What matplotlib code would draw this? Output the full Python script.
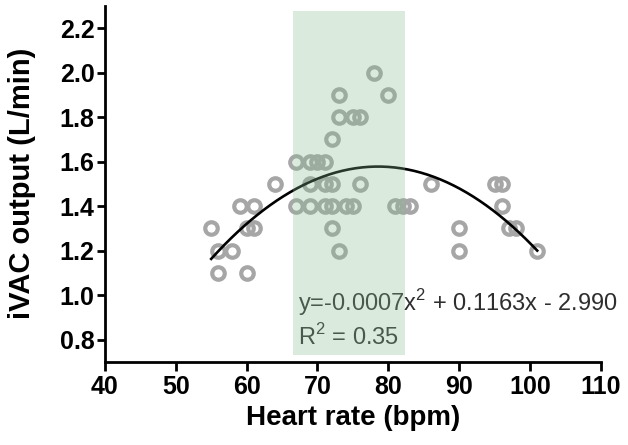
import numpy as np
import matplotlib
matplotlib.use("Agg")
import matplotlib.pyplot as plt

plt.rcParams['font.family'] = ['Liberation Sans', 'DejaVu Sans']

# data
heart_rate = [55, 56, 58, 56, 60, 59, 61, 60, 61, 64,
              67, 69, 70, 71,
              69, 71, 72, 76,
              67, 69, 71, 72, 74, 75, 81, 82, 83,
              72, 73,
              72, 73, 75, 76, 73, 80, 78,
              86, 90, 90, 95, 96, 96, 97, 98, 101]
ivac = [1.3, 1.2, 1.2, 1.1, 1.1, 1.4, 1.4, 1.3, 1.3, 1.5,
        1.6, 1.6, 1.6, 1.6,
        1.5, 1.5, 1.5, 1.5,
        1.4, 1.4, 1.4, 1.4, 1.4, 1.4, 1.4, 1.4, 1.4,
        1.3, 1.2,
        1.7, 1.8, 1.8, 1.8, 1.9, 1.9, 2.0,
        1.5, 1.3, 1.2, 1.5, 1.5, 1.4, 1.3, 1.3, 1.2]
band = (66.5, 82.3)
eq_text = "y=-0.0007x$^2$ + 0.1163x - 2.990"
r2_text = "R$^2$ = 0.35"

hr = np.array(heart_rate, dtype=float)
iv = np.array(ivac, dtype=float)
coef = np.polyfit(hr, iv, 2)
xs = np.linspace(hr.min(), hr.max(), 200)

plt.rcParams['mathtext.fontset'] = 'custom'
plt.rcParams['mathtext.rm'] = 'Liberation Sans'

fig = plt.figure(figsize=(6.28, 4.45), dpi=100)
ax = fig.add_axes([0.167, 0.187, 0.790, 0.800])

ax.plot(hr, iv, 'o', mfc='none', mec='#a6a6a6', ms=9, mew=3, zorder=2)
ax.plot(xs, np.polyval(coef, xs), color='black', lw=1.9, zorder=3)

ax.text(67.3, 0.965, eq_text, fontsize=17, color='#2e2e2e', va='center', zorder=4)
ax.text(67.3, 0.81, r2_text, fontsize=17, color='#2e2e2e', va='center', zorder=4)

# translucent green band over the points
ax.axvspan(band[0], band[1], ymin=0.018, ymax=0.985, color='#87c094', alpha=0.3,
           lw=0, zorder=5)

ax.set_xlim(40, 110)
ax.set_ylim(0.7, 2.3)
ax.set_xticks(range(40, 111, 10))
ax.set_yticks(np.arange(0.8, 2.21, 0.2))
ax.set_yticklabels(['%.1f' % v for v in np.arange(0.8, 2.21, 0.2)])

for s in ['top', 'right']:
    ax.spines[s].set_visible(False)
for s in ['left', 'bottom']:
    ax.spines[s].set_linewidth(2)
ax.tick_params(axis='x', length=6.5, width=2, pad=3, labelsize=18)
ax.tick_params(axis='y', length=5.5, width=2, pad=2, labelsize=18)
for lab in ax.get_xticklabels() + ax.get_yticklabels():
    lab.set_fontweight('bold')

ax.set_xlabel('Heart rate (bpm)', fontsize=20, fontweight='bold', labelpad=4)
ax.set_ylabel('iVAC output (L/min)', fontsize=21, fontweight='bold', labelpad=17)

fig.savefig('out.png', dpi=100)
